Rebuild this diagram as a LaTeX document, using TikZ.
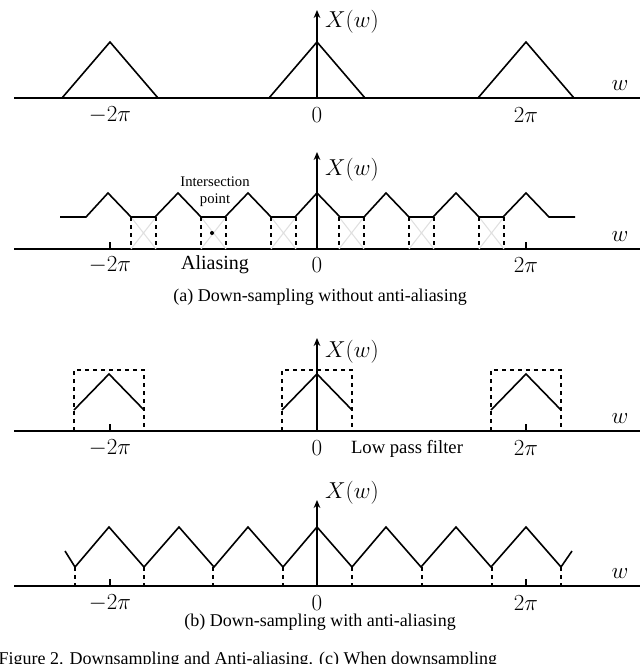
\documentclass[tikz,border=0pt]{standalone}
\usepackage{fontspec}
\setmainfont{Liberation Serif}
\usetikzlibrary{arrows.meta}

\begin{document}
\begin{tikzpicture}[
    x=0.75pt, y=-0.75pt,
    axis/.style={line width=1.1pt},
    yaxis/.style={line width=1.1pt, -{Stealth[length=6pt, width=5pt]}},
    curve/.style={line width=1.2pt},
    filter/.style={line width=1pt, dashed},
    cross/.style={draw=black!12, line width=0.8pt},
    lbl/.style={font=\fontsize{16}{19}\selectfont},
    caption/.style={font=\fontsize{13.5}{16}\selectfont}
]
\useasboundingbox (0,0) rectangle (640,664);
\clip (0,0) rectangle (640,664);

% (a) original spectrum
\draw[axis] (14,98) -- (640,98);
\draw[yaxis] (317,98) -- (317,10);
\foreach \c in {110,317,526}
  \draw[curve] (\c-48,98) -- (\c,42) -- (\c+48,98);
\node[lbl] (xa) at (352,22) {$X(w)$};
\node[lbl] (wa) at (620,86) {$w$};
\node[lbl] (ma) at (110,115) {$-2\pi$};
\node[lbl] (za) at (317,115) {$0$};
\node[lbl] (pa) at (526,115) {$2\pi$};

% (a) aliased spectrum
\draw[axis] (14,249) -- (640,249);
\draw[yaxis] (317,249) -- (317,152);
\foreach \t in {110,526} \draw[axis] (\t,249) -- (\t,242);
\foreach \b in {131,201,271,339,409,479} {
  \draw[cross] (\b,217) -- (\b+25,249) (\b,249) -- (\b+25,217);
  \draw[filter] (\b,217) -- (\b,249) (\b+25,217) -- (\b+25,249);
}
\draw[curve] (60,217) -- (86,217)
  \foreach \p in {108,178,248,317,386,456,526} { -- (\p,193) -- (\p+23,217) -- (\p+47,217) }
  -- (575,217);
\fill (212,233) circle (1.5pt);
\node[font=\fontsize{11}{13}\selectfont, align=center, inner sep=0pt] (inter) at (215,192) {Intersection\\point};
\node[font=\fontsize{15}{18}\selectfont] (alias) at (215,265) {Aliasing};
\node[lbl] (xb) at (352,170) {$X(w)$};
\node[lbl] (wb) at (620,237) {$w$};
\node[lbl] (mb) at (110,265) {$-2\pi$};
\node[lbl] (zb) at (317,265) {$0$};
\node[lbl] (pb) at (526,265) {$2\pi$};
\node[caption] (capa) at (320,297) {(a) Down-sampling without anti-aliasing};

% (b) low pass filtered spectrum
\draw[axis] (14,431) -- (640,431);
\draw[yaxis] (317,431) -- (317,338);
\foreach \t in {110,526} \draw[axis] (\t,431) -- (\t,424);
\foreach \c in {109,317,526} {
  \draw[filter] (\c-35,431) -- (\c-35,370) -- (\c+35,370) -- (\c+35,431);
  \draw[curve] (\c-35,410) -- (\c,374) -- (\c+35,410);
}
\node[lbl] (xc) at (352,352) {$X(w)$};
\node[lbl] (wc) at (620,419) {$w$};
\node[lbl] (mc) at (110,448) {$-2\pi$};
\node[lbl] (zc) at (317,448) {$0$};
\node[font=\fontsize{14}{17}\selectfont] (lpf) at (407,449) {Low pass filter};
\node[lbl] (pc) at (526,448) {$2\pi$};

% (b) downsampled spectrum
\draw[axis] (14,586) -- (640,586);
\draw[yaxis] (317,586) -- (317,500);
\foreach \t in {110,526} \draw[axis] (\t,586) -- (\t,579);
\foreach \v in {75,144,213,283,352,422,492,561}
  \draw[filter] (\v,567) -- (\v,586);
\draw[curve] (65,551) -- (75,567)
  \foreach \p in {109,179,248,317,386,456,526} { -- (\p,527) -- (\p+35,567) }
  -- (572,551);
\node[lbl] (xd) at (352,493) {$X(w)$};
\node[lbl] (wd) at (620,574) {$w$};
\node[lbl] (md) at (110,603) {$-2\pi$};
\node[lbl] (zd) at (317,603) {$0$};
\node[lbl] (pd) at (526,603) {$2\pi$};
\node[caption] (capb) at (320,622) {(b) Down-sampling with anti-aliasing};

\node[caption, anchor=west] (fig) at (-6,660) {Figure 2. Downsampling and Anti-aliasing. (c) When downsampling};
\end{tikzpicture}
\end{document}
